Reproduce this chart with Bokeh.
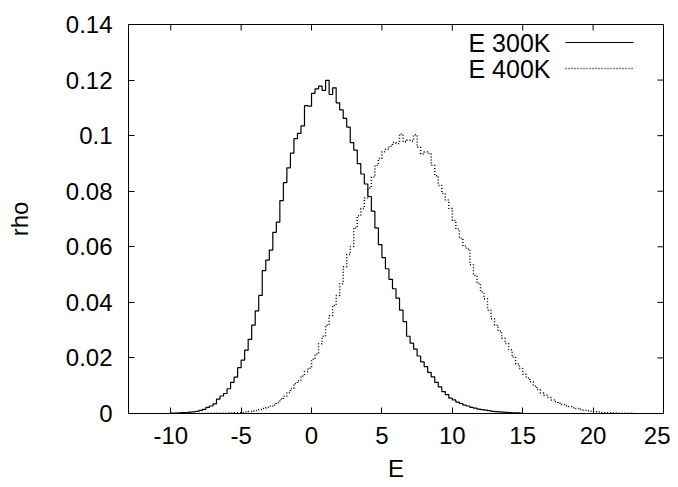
import numpy as np
from bokeh.plotting import figure
from bokeh.models import Range1d, FixedTicker, Label, Arrow
from bokeh.embed import file_html
from bokeh.resources import INLINE

# ---------------- data ----------------
bin_width = 0.25
e300_start = -10.0
rho_300 = [
    0.0001, 0.0001, 0.0002, 0.0003, 0.0003, 0.0005, 0.0006, 0.0008, 0.0011, 0.0015,
    0.0022, 0.0027, 0.0035, 0.0052, 0.0063, 0.0072, 0.0089, 0.0112, 0.0131, 0.0165,
    0.0192, 0.0228, 0.0267, 0.0318, 0.0369, 0.0425, 0.0514, 0.0552, 0.0588, 0.0652,
    0.0689, 0.0766, 0.0831, 0.0884, 0.0937, 0.0989, 0.1008, 0.1035, 0.1108, 0.1106,
    0.1152, 0.1168, 0.1178, 0.1163, 0.1199, 0.1148, 0.1172, 0.1118, 0.1093, 0.1062,
    0.1031, 0.0975, 0.0948, 0.0899, 0.0862, 0.0826, 0.0781, 0.0728, 0.0668, 0.0608,
    0.0561, 0.0521, 0.0483, 0.0449, 0.0415, 0.0372, 0.0331, 0.0278, 0.0253, 0.0232,
    0.0207, 0.0186, 0.0169, 0.0148, 0.0132, 0.0112, 0.0096, 0.0079, 0.0068, 0.0055,
    0.0049, 0.0041, 0.0036, 0.0030, 0.0027, 0.0022, 0.0019, 0.0016, 0.0014, 0.0012,
    0.0010, 0.0008, 0.0007, 0.0006, 0.0005, 0.0004, 0.0003, 0.0002, 0.0002, 0.0001,
]
e400_start = -8.0
rho_400 = [
    0.0000, 0.0000, 0.0001, 0.0001, 0.0001, 0.0001, 0.0001, 0.0001, 0.0002, 0.0002,
    0.0003, 0.0003, 0.0004, 0.0005, 0.0007, 0.0009, 0.0011, 0.0014, 0.0018, 0.0022,
    0.0026, 0.0031, 0.0040, 0.0051, 0.0062, 0.0076, 0.0090, 0.0108, 0.0118, 0.0135,
    0.0151, 0.0163, 0.0195, 0.0214, 0.0251, 0.0278, 0.0318, 0.0352, 0.0389, 0.0425,
    0.0467, 0.0528, 0.0572, 0.0601, 0.0668, 0.0712, 0.0738, 0.0776, 0.0812, 0.0851,
    0.0893, 0.0918, 0.0942, 0.0951, 0.0962, 0.0975, 0.0972, 0.1006, 0.0978, 0.0983,
    0.0981, 0.1003, 0.0958, 0.0934, 0.0941, 0.0936, 0.0893, 0.0856, 0.0821, 0.0792,
    0.0768, 0.0738, 0.0695, 0.0664, 0.0631, 0.0603, 0.0592, 0.0535, 0.0497, 0.0468,
    0.0437, 0.0413, 0.0372, 0.0341, 0.0318, 0.0297, 0.0271, 0.0252, 0.0229, 0.0203,
    0.0178, 0.0162, 0.0141, 0.0128, 0.0114, 0.0099, 0.0086, 0.0074, 0.0066, 0.0058,
    0.0049, 0.0042, 0.0037, 0.0032, 0.0028, 0.0025, 0.0021, 0.0018, 0.0014, 0.0012,
    0.0010, 0.0008, 0.0006, 0.0005, 0.0004, 0.0003, 0.0003, 0.0002, 0.0002, 0.0001,
    0.0001, 0.0001, 0.0001, 0.0000,
]
series_names = ["E 300K", "E 400K"]
x_ticks = [-10, -5, 0, 5, 10, 15, 20, 25]
x_tick_labels = ["-10", "-5", "0", "5", "10", "15", "20", "25"]
y_ticks = [0, 0.02, 0.04, 0.06, 0.08, 0.1, 0.12, 0.14]
y_tick_labels = ["0", "0.02", "0.04", "0.06", "0.08", "0.1", "0.12", "0.14"]

# ---------------- figure ----------------
FONT = "Liberation Sans"
FS = "24px"
X0, X1, Y0, Y1 = -13, 25, 0, 0.14
FW, FH = 535, 389
BL, BR, BT, BB = 128, 7, 24, 60
p = figure(frame_width=FW, frame_height=FH, output_backend="svg", toolbar_location=None,
           x_range=Range1d(X0, X1), y_range=Range1d(Y0, Y1),
           min_border_left=BL, min_border_right=BR, min_border_top=BT,
           min_border_bottom=BB, x_axis_label="E", y_axis_label="rho")
p.grid.visible = False
p.outline_line_color = "black"
p.outline_line_width = 1
p.background_fill_color = "white"
p.border_fill_color = "white"


def step_xy(start, vals):
    edges = start + bin_width * np.arange(len(vals) + 1)
    xs = np.repeat(edges, 2)[1:-1]
    ys = np.repeat(np.asarray(vals), 2)
    return xs, ys


x3, y3 = step_xy(e300_start, rho_300)
x4, y4 = step_xy(e400_start, rho_400)
p.line(x3, y3, line_color="black", line_width=1.2)
p.line(x4, y4, line_color="black", line_width=1.5, line_dash="1 2")

for ax, ticks, labels, standoff, lstand in (
        (p.xaxis[0], x_ticks, x_tick_labels, 13, 8),
        (p.yaxis[0], y_ticks, y_tick_labels, 16, 30)):
    ax.ticker = FixedTicker(ticks=ticks)
    ax.major_label_overrides = dict(zip(ticks, labels))
    ax.minor_tick_line_color = None
    ax.major_tick_in = 6
    ax.major_tick_out = 0
    ax.major_tick_line_color = "black"
    ax.axis_line_color = None
    ax.major_label_text_font = FONT
    ax.major_label_text_font_size = FS
    ax.major_label_text_color = "black"
    ax.major_label_standoff = standoff
    ax.axis_label_text_font = FONT
    ax.axis_label_text_font_style = "normal"
    ax.axis_label_text_font_size = FS
    ax.axis_label_text_color = "black"
    ax.axis_label_standoff = lstand

# mirrored ticks on the top and right sides of the frame (6 px long)
tx = 6 * (X1 - X0) / FW
ty = 6 * (Y1 - Y0) / FH
p.segment(x0=x_ticks, y0=[Y1] * len(x_ticks), x1=x_ticks, y1=[Y1 - ty] * len(x_ticks),
          line_color="black", line_width=1)
p.segment(x0=[X1] * len(y_ticks), y0=y_ticks, x1=[X1 - tx] * len(y_ticks), y1=y_ticks,
          line_color="black", line_width=1)

# legend (gnuplot style: text, then sample line to its right)
legend_rows = [(371, None), (345, "1 2")]
for name, (ly, dash) in zip(series_names, legend_rows):
    p.add_layout(Label(x=422, y=ly, x_units="screen", y_units="screen", text=name,
                       text_align="right", text_baseline="middle",
                       text_font=FONT, text_font_size="25px", text_color="black"))
    arr = Arrow(x_start=437, y_start=ly, x_end=505, y_end=ly,
                start_units="screen", end_units="screen", end=None,
                line_color="black", line_width=1.2)
    if dash:
        arr.line_dash = dash
        arr.line_width = 1.5
    p.add_layout(arr)

open("out.html", "w").write(file_html(p, INLINE))
